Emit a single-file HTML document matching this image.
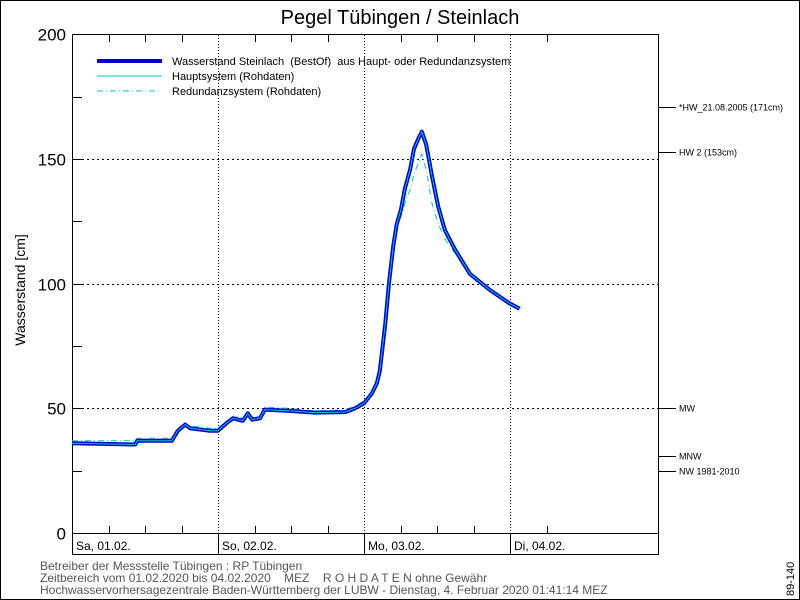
<!DOCTYPE html>
<html><head><meta charset="utf-8"><style>
body{margin:0;background:#fff}
svg{display:block;font-family:"Liberation Sans",sans-serif}
text{white-space:pre}
</style></head><body>
<svg id="c" width="800" height="600" xmlns="http://www.w3.org/2000/svg" xml:space="preserve">
<rect x="0.5" y="0.5" width="799" height="599" fill="#fff" stroke="#000"/>
<text x="400" y="24" font-size="20" text-anchor="middle">Pegel Tübingen / Steinlach</text>
<text transform="translate(25,290) rotate(-90)" font-size="14" text-anchor="middle">Wasserstand [cm]</text>
<g id="grid"></g>
<g id="axes"></g>
<g id="series"></g>
<g>
<line x1="97" y1="61" x2="162" y2="61" stroke="#0000c8" stroke-width="4"/>
<text x="172" y="65" font-size="11">Wasserstand Steinlach  (BestOf)  aus Haupt- oder Redundanzsystem</text>
<line x1="97" y1="76" x2="162" y2="76" stroke="#00c8c8" stroke-width="1"/>
<text x="172" y="80" font-size="11">Hauptsystem (Rohdaten)</text>
<line x1="97" y1="91" x2="162" y2="91" stroke="#00c8c8" stroke-width="1" stroke-dasharray="6,3,1,3"/>
<text x="172" y="95" font-size="11">Redundanzsystem (Rohdaten)</text>
</g>
<g fill="#555" font-size="12">
<text x="40" y="570">Betreiber der Messstelle Tübingen : RP Tübingen</text>
<text x="40" y="582">Zeitbereich vom 01.02.2020 bis 04.02.2020    MEZ    R O H D A T E N ohne Gewähr</text>
<text x="40" y="594">Hochwasservorhersagezentrale Baden-Württemberg der LUBW - Dienstag, 4. Februar 2020 01:41:14 MEZ</text>
</g>
<text transform="translate(794,596) rotate(-90)" font-size="11">89-140</text>
</svg>
<script>
const dayLabels=["Sa, 01.02.","So, 02.02.","Mo, 03.02.","Di, 04.02."];
const yTicks=[0,50,100,150,200];
const refValues=[171,153,50,31,25];
const refLabels=["*HW_21.08.2005 (171cm)","HW 2 (153cm)","MW","MNW","NW 1981-2010"];
const hours=[0,10.4,10.7,16.4,17.4,18.6,19.4,22.7,24,25.6,26.5,28.1,28.9,29.6,30.9,31.7,35.8,39.9,44.9,46.5,48,49.3,50.1,50.6,51.5,52.1,52.8,53.4,54.1,54.7,55.6,56.2,56.9,57.5,58.2,59.2,60.2,61.3,63,65.4,68.7,72,73.6];
const bestOf=[36,35.5,37,37,41,43.5,42,41,41,44.5,46,45,48,45.5,46,49.5,49,48.3,48.5,50,52,56,60,65,84,100,115,124,130,138,146,154,158,161,156,143,131,121.5,113.5,104,97.5,92,90];
const redundanz=[37,37,38,38,42,44,43,42,42,45,47,46,48.5,46.5,47,50.5,50,49,49.3,51,53,56.5,60,65,84,100,114,122,127,132,138,144,148,152,146,132,124,118,112,103,97,92,90];
const X0=72,X1=658,PXH=146/24,Y0=533,PXV=2.4925;
const sx=h=>X0+h*PXH, sy=v=>Y0-v*PXV;
const NS="http://www.w3.org/2000/svg";
function mk(p,t,a){const e=document.createElementNS(NS,t);for(const k in a)e.setAttribute(k,a[k]);p.appendChild(e);return e;}
const grid=document.getElementById('grid'),axes=document.getElementById('axes'),ser=document.getElementById('series');
let fr=mk(axes,'rect',{x:X0+.5,y:34.5,width:X1-X0,height:554-34,fill:'none',stroke:'#000'});


let bl=mk(axes,'line',{x1:X0,y1:Y0+.5,x2:X1,y2:Y0+.5,stroke:'#000'});


yTicks.forEach(v=>{
 const y=Math.round(sy(v))+.5;
 if(v>0&&v<200){const g=mk(grid,'line',{x1:X0,y1:y,x2:X1,y2:y,stroke:'#000','stroke-dasharray':'2,3'});
 
 }
 const t=mk(axes,'text',{x:66,y:y+6,'font-size':'17','text-anchor':'end',fill:'#000'});t.textContent=v;
 
 
});
for(let v=25;v<200;v+=25){const y=Math.round(sy(v))+.5;const t=mk(axes,'line',{x1:X0,y1:y,x2:X0+10,y2:y,stroke:'#000'});
 
 }
for(let h=6;h<80;h+=6){const x=Math.round(sx(h))+.5;if(x>=X1)break;
 if(h%24==0){const g=mk(grid,'line',{x1:x,y1:35,x2:x,y2:Y0,stroke:'#000','stroke-dasharray':'1,2'});
  
  
  const s=mk(axes,'line',{x1:x,y1:Y0,x2:x,y2:554,stroke:'#000'});
  
  }
 else{const a=mk(axes,'line',{x1:x,y1:35,x2:x,y2:42,stroke:'#000'});
  
  
  const b=mk(axes,'line',{x1:x,y1:Y0,x2:x,y2:Y0-7,stroke:'#000'});
  
  }
}
dayLabels.forEach((d,i)=>{const t=mk(axes,'text',{x:sx(i*24)+4,y:550,'font-size':'12'});t.textContent=d;
 
 });
refValues.forEach((v,i)=>{const y=Math.round(sy(v))+.5;
 const l=mk(axes,'line',{x1:X1,y1:y,x2:676,y2:y,stroke:'#000'});
 
 
 const t=mk(axes,'text',{x:679,y:y+3,'font-size':'9'});t.textContent=refLabels[i];
 
 });
const pts=a=>a.map((v,i)=>sx(hours[i]).toFixed(1)+','+sy(v).toFixed(1)).join(' ');
const r=mk(ser,'polyline',{points:pts(redundanz),fill:'none',stroke:'#00c8c8','stroke-width':1,'stroke-dasharray':'6,3,1,3'});


const b=mk(ser,'polyline',{points:pts(bestOf),fill:'none',stroke:'#0000c8','stroke-width':4,'stroke-linejoin':'round'});


const hs=mk(ser,'polyline',{points:pts(bestOf),fill:'none',stroke:'#00c8c8','stroke-width':1});


</script>
</body></html>
